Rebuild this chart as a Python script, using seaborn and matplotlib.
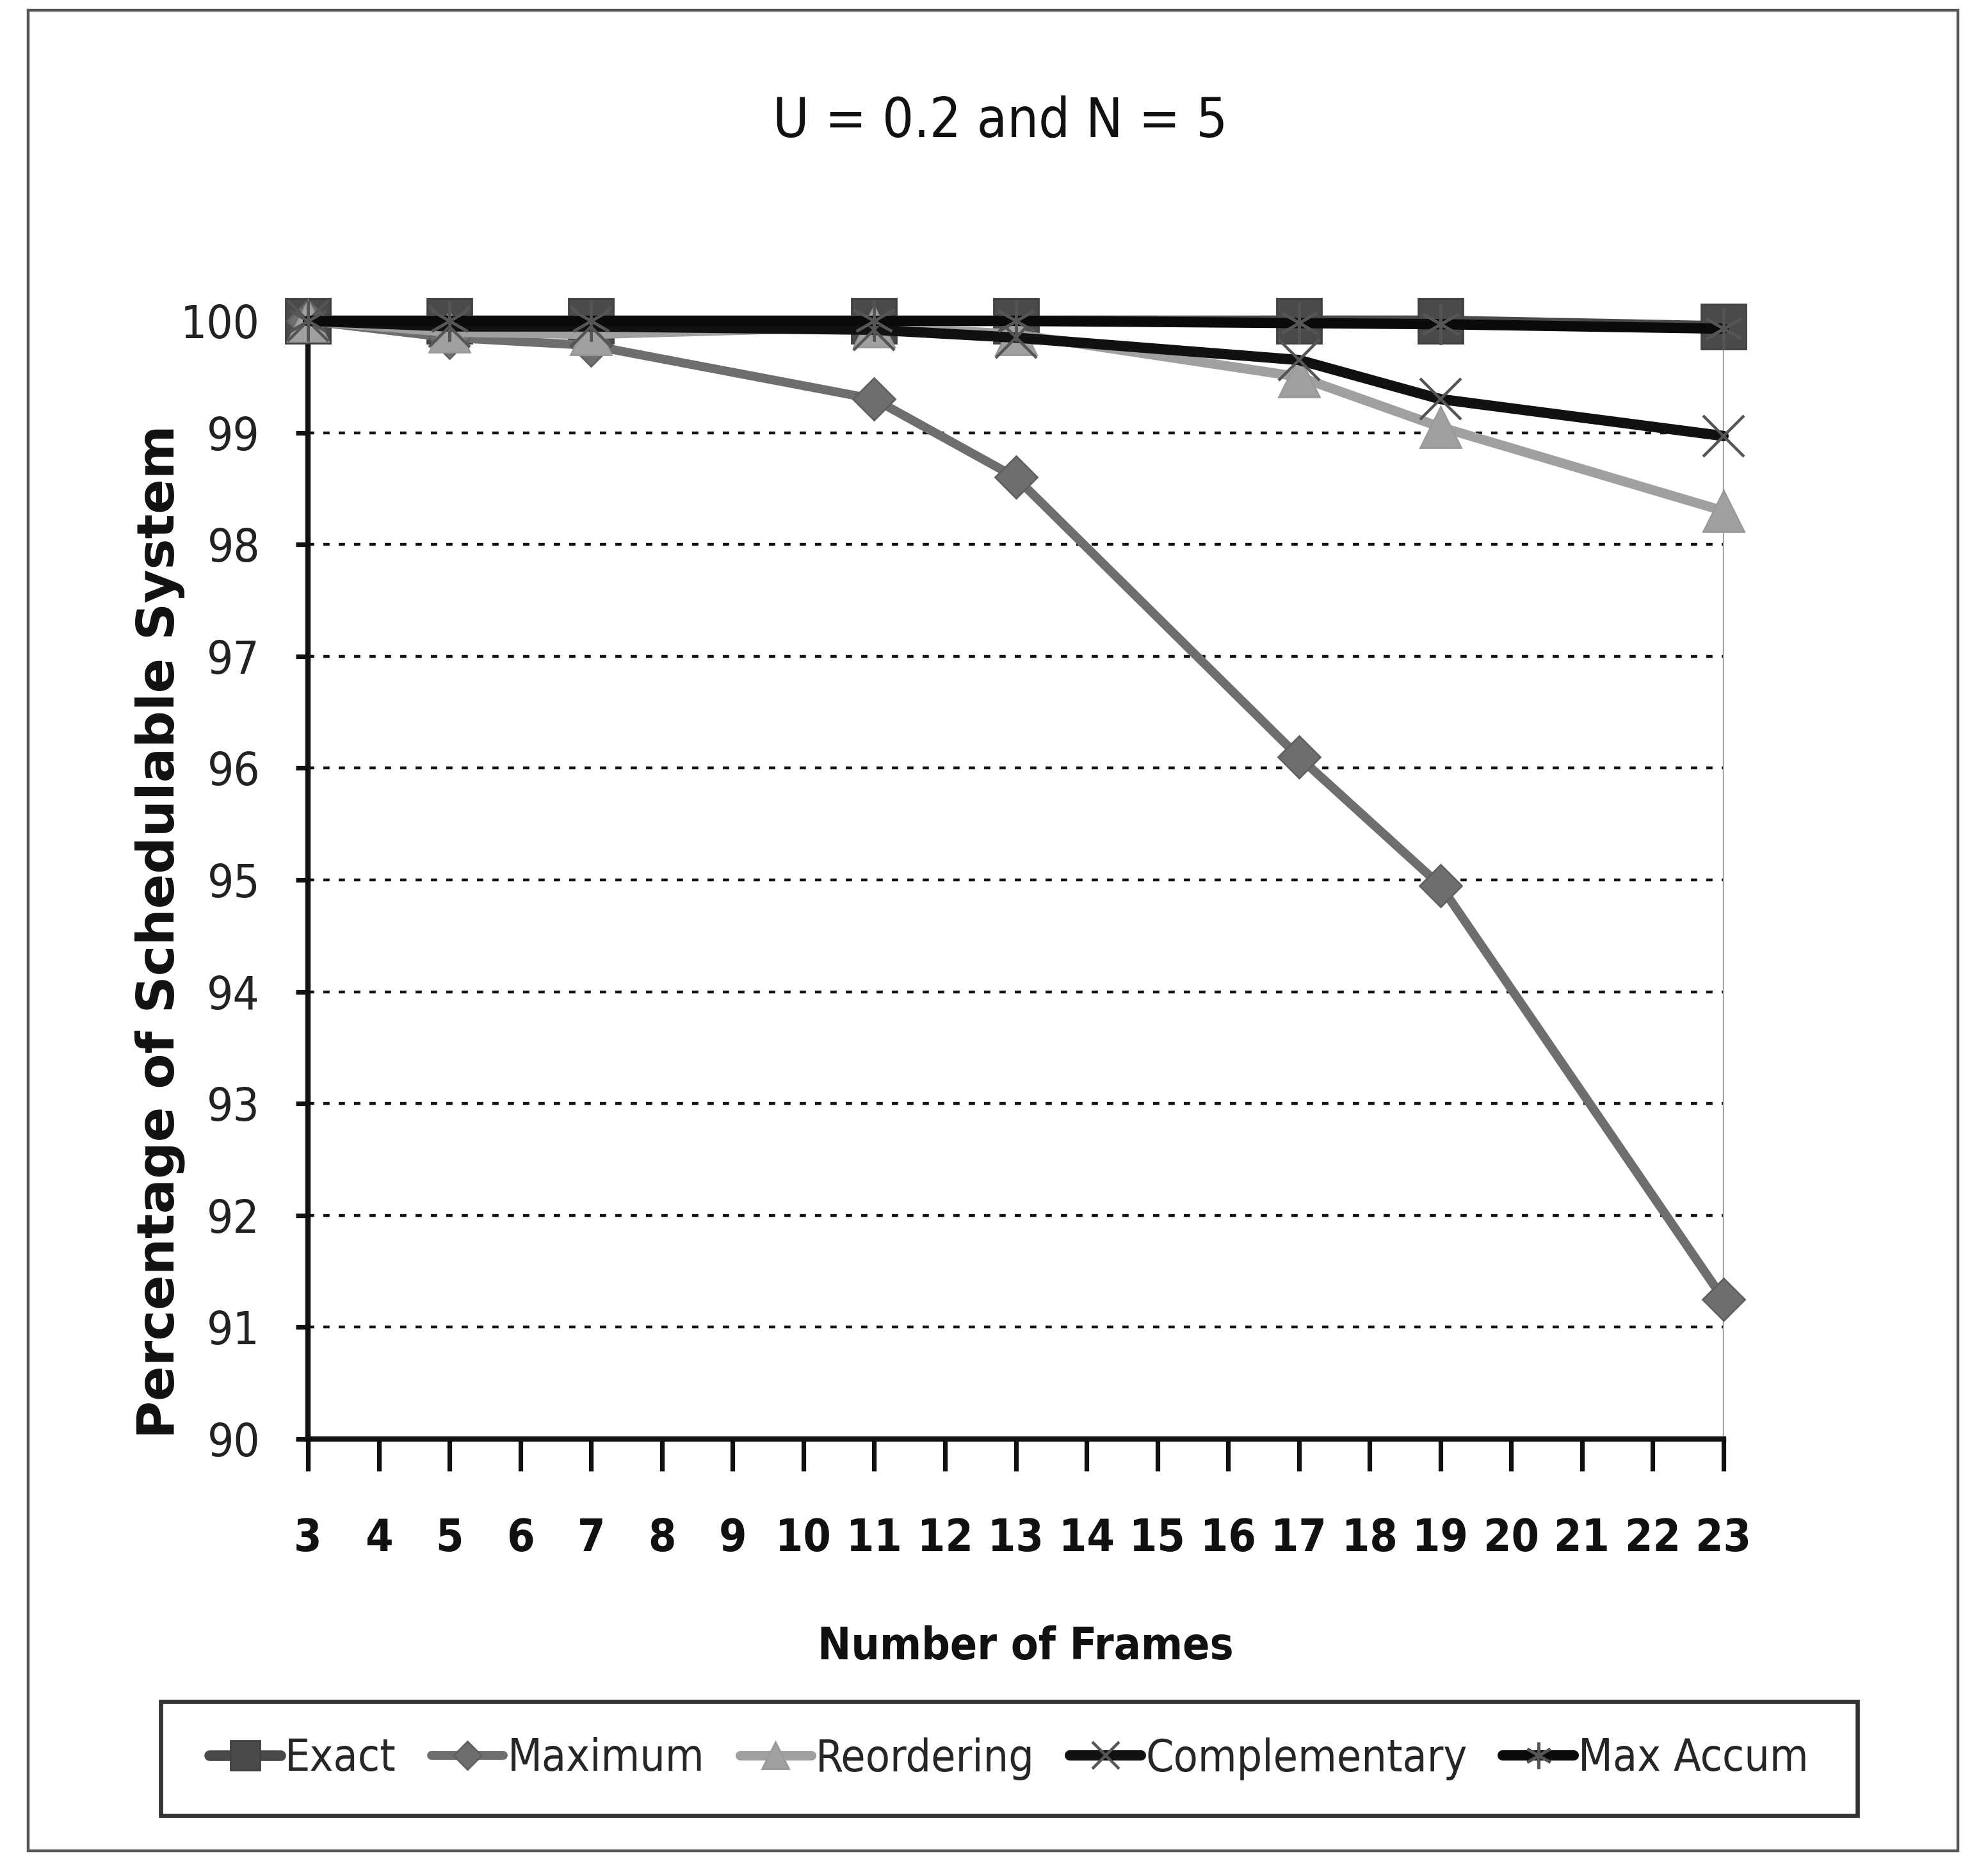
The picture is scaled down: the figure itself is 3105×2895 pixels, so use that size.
import matplotlib
matplotlib.use("Agg")
import matplotlib.pyplot as plt
from matplotlib import font_manager
from matplotlib.font_manager import FontProperties
from matplotlib.patches import Rectangle
import seaborn as sns
import pandas as pd

# ---- data -------------------------------------------------------------
frames = [3, 5, 7, 11, 13, 17, 19, 23]
exact = [100, 100, 100, 100, 100, 100, 100, 99.95]
maximum = [100, 99.85, 99.78, 99.3, 98.6, 96.1, 94.95, 91.25]
reordering = [100, 99.9, 99.88, 99.95, 99.88, 99.5, 99.05, 98.3]
complementary = [100, 99.95, 99.95, 99.92, 99.85, 99.65, 99.3, 98.97]
max_accum = [100, 100, 100, 100, 100, 99.98, 99.97, 99.93]

series_names = ["Exact", "Maximum", "Reordering", "Complementary", "Max Accum"]
x_ticks = list(range(3, 24))
y_ticks = list(range(90, 101))

title_text = "U = 0.2 and N = 5"
x_label = "Number of Frames"
y_label = "Percentage of Schedulable System"

sns.set_theme(style="white")
plt.rcParams["font.family"] = ["DejaVu Sans"]


# ---- narrow font lookup -----------------------------------------------
def _weight(f):
    w = f.weight
    if isinstance(w, str):
        w = font_manager.weight_dict.get(w, 400)
    return int(w)


def _is_narrow(f):
    st = f.stretch
    if isinstance(st, str):
        st = font_manager.stretch_dict.get(st, 500)
    return ("Narrow" in f.name) or ("Condensed" in f.name) or int(st) < 500


def narrow_font(bold):
    want = 700 if bold else 400
    best, best_score = None, None
    for f in font_manager.fontManager.ttflist:
        if f.style != "normal" or "Mono" in f.name or "Serif" in f.name:
            continue
        if not _is_narrow(f):
            continue
        score = abs(_weight(f) - want)
        if "Liberation" in f.name or "Arial" in f.name:
            score -= 30
        if best_score is None or score < best_score:
            best, best_score = f, score
    return best


_reg = narrow_font(False)
_bold = narrow_font(True)


def fp(size, bold=False):
    f = _bold if bold else _reg
    if f is not None:
        return FontProperties(fname=f.fname, size=size)
    return FontProperties(family="DejaVu Sans", size=size * 0.85,
                          weight="bold" if bold else "normal")


# ---- figure -----------------------------------------------------------
W, H = 3105, 2895
DPI = 200
fig = plt.figure(figsize=(W / DPI, H / DPI), dpi=DPI, facecolor="white")
ax = fig.add_axes([481 / W, 1 - 2247 / H, (2692 - 481) / W, (2247 - 501) / H])
ax.set_facecolor("white")

df = pd.DataFrame({
    "frames": frames * 5,
    "value": exact + maximum + reordering + complementary + max_accum,
    "series": sum([[n] * len(frames) for n in series_names], []),
})

styles = {
    "Exact":         dict(color="#4a4a4a", marker="s", markersize=25, lw=6.0, mec="#404040", mew=1.0, z=3),
    "Maximum":       dict(color="#6e6e6e", marker="D", markersize=17, lw=5.0, mec="#606060", mew=1.0, z=4),
    "Reordering":    dict(color="#a0a0a0", marker="^", markersize=23, lw=5.4, mec="#999999", mew=1.0, z=5),
    "Complementary": dict(color="#111111", marker="x", markersize=23, lw=5.8, mec="#555555", mew=1.6, z=6),
    "Max Accum":     dict(color="#0a0a0a", marker=(6, 2, 0), markersize=23, lw=5.8, mec="#555555", mew=1.6, z=7),
}

for name in series_names:
    st = styles[name]
    sub = df[df["series"] == name]
    sns.lineplot(data=sub, x="frames", y="value", ax=ax, color=st["color"],
                 marker=st["marker"], markersize=st["markersize"], linewidth=st["lw"],
                 markeredgecolor=st["mec"], markeredgewidth=st["mew"],
                 label=name, zorder=st["z"], clip_on=False)

# thin drop line at the last category
ax.axvline(23, color="#7a7a7a", lw=1.2, zorder=2)

# ---- axes -------------------------------------------------------------
ax.set_xlim(3, 23)
ax.set_ylim(90, 100)
ax.set_xticks(x_ticks)
ax.set_yticks(y_ticks)
ax.set_xticklabels([str(v) for v in x_ticks])
ax.set_yticklabels([str(v) for v in y_ticks])
for lab in ax.get_xticklabels():
    lab.set_fontproperties(fp(25, bold=True))
for lab in ax.get_yticklabels():
    lab.set_fontproperties(fp(26))

ax.grid(False)
for v in y_ticks[1:-1]:
    ax.axhline(v, color="#111111", lw=1.6, linestyle=(0, (2.2, 3.2)), zorder=1)

for s in ("top", "right"):
    ax.spines[s].set_visible(False)
for s in ("left", "bottom"):
    ax.spines[s].set_color("#111111")
    ax.spines[s].set_linewidth(3.0)
    ax.spines[s].set_zorder(2)

ax.tick_params(axis="x", direction="out", length=18, width=2.6, color="#111111",
               pad=26, labelcolor="#111111", bottom=True)
ax.tick_params(axis="y", direction="out", length=7, width=2.6, color="#111111",
               pad=20, labelcolor="#222222", left=True)

ax.set_xlabel("")
ax.set_ylabel("")

fig.text(0.503, 1 - 190 / H, title_text, ha="center", va="center",
         fontproperties=fp(31), color="#111111")
fig.text(0.516, 1 - 2572 / H, x_label, ha="center", va="center",
         fontproperties=fp(25, bold=True), color="#111111")
fig.text(250 / W, 1 - 1455 / H, y_label, ha="center", va="center", rotation=90,
         fontsize=29, fontweight="bold", color="#111111", family="DejaVu Sans")

# ---- legend -----------------------------------------------------------
handles, labels = ax.get_legend_handles_labels()
ax.get_legend().remove()
box_x0, box_x1 = 251 / W, 2901 / W
box_y0, box_y1 = 1 - 2835 / H, 1 - 2657 / H
leg = fig.legend(handles, labels, loc="center", ncol=5,
                 bbox_to_anchor=((box_x0 + box_x1) / 2, (box_y0 + box_y1) / 2),
                 prop=fp(25), frameon=False,
                 handlelength=1.6, handletextpad=0.1, columnspacing=0.8,
                 markerscale=0.65)
fig.patches.append(Rectangle((box_x0, box_y0), box_x1 - box_x0, box_y1 - box_y0,
                             transform=fig.transFigure, fill=False,
                             edgecolor="#333333", lw=2.4))

# ---- outer border -----------------------------------------------------
fig.patches.append(Rectangle((44 / W, 1 - 2890 / H), (3058 - 44) / W, (2890 - 16) / H,
                             transform=fig.transFigure, fill=False,
                             edgecolor="#555555", lw=1.6))

fig.savefig("out.png", dpi=DPI, facecolor="white")
